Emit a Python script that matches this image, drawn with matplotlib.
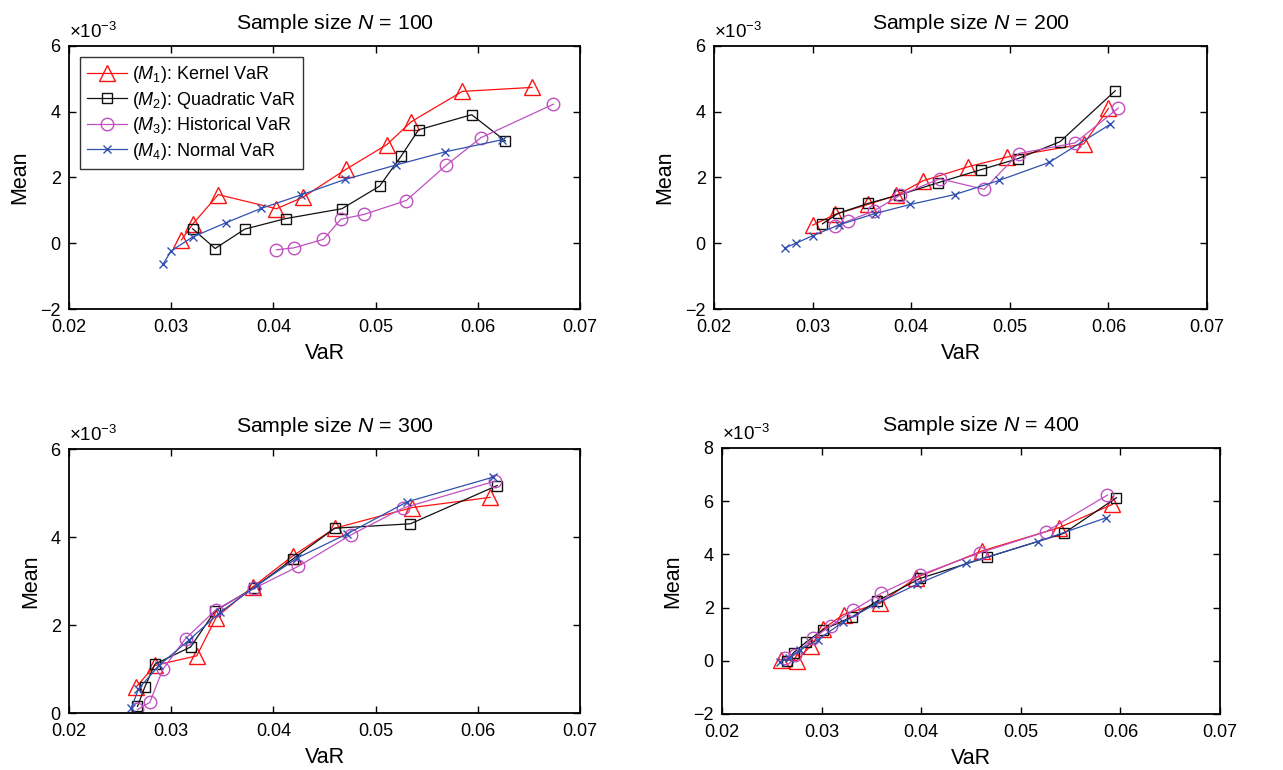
import matplotlib
matplotlib.use("Agg")
import matplotlib.pyplot as plt

plt.rcParams['font.family'] = ['Liberation Sans', 'DejaVu Sans']
plt.rcParams['mathtext.fontset'] = 'custom'
plt.rcParams['mathtext.rm'] = 'Liberation Sans'
plt.rcParams['mathtext.it'] = 'Liberation Sans:italic'

titles = ["Sample size $N$ = 100", "Sample size $N$ = 200",
          "Sample size $N$ = 300", "Sample size $N$ = 400"]
labels = ["($M_1$): Kernel VaR", "($M_2$): Quadratic VaR",
          "($M_3$): Historical VaR", "($M_4$): Normal VaR"]

# Mean values are in units of 1e-3
# N = 100
p1_m1_x = [0.0310, 0.0321, 0.0346, 0.0403, 0.0429, 0.0471, 0.0511, 0.0535, 0.0585, 0.0653]
p1_m1_y = [0.10, 0.58, 1.48, 1.05, 1.40, 2.25, 3.00, 3.70, 4.62, 4.74]
p1_m2_x = [0.0321, 0.0343, 0.0372, 0.0412, 0.0467, 0.0504, 0.0525, 0.0542, 0.0594, 0.0627]
p1_m2_y = [0.44, -0.16, 0.43, 0.75, 1.05, 1.74, 2.65, 3.45, 3.91, 3.11]
p1_m3_x = [0.0403, 0.0420, 0.0449, 0.0466, 0.0489, 0.0530, 0.0569, 0.0603, 0.0674]
p1_m3_y = [-0.20, -0.14, 0.12, 0.73, 0.88, 1.30, 2.37, 3.21, 4.23]
p1_m4_x = [0.0292, 0.0300, 0.0321, 0.0354, 0.0388, 0.0427, 0.0470, 0.0520, 0.0568, 0.0624]
p1_m4_y = [-0.64, -0.23, 0.19, 0.63, 1.06, 1.47, 1.94, 2.38, 2.78, 3.15]

# N = 200
p2_m1_x = [0.0300, 0.0323, 0.0356, 0.0385, 0.0412, 0.0458, 0.0497, 0.0575, 0.0600]
p2_m1_y = [0.55, 0.88, 1.18, 1.46, 1.90, 2.33, 2.62, 3.02, 4.10]
p2_m2_x = [0.0310, 0.0326, 0.0356, 0.0388, 0.0427, 0.0471, 0.0508, 0.0551, 0.0607]
p2_m2_y = [0.59, 0.91, 1.21, 1.47, 1.84, 2.24, 2.57, 3.09, 4.64]
p2_m3_x = [0.0323, 0.0336, 0.0362, 0.0389, 0.0429, 0.0474, 0.0509, 0.0566, 0.0610]
p2_m3_y = [0.51, 0.68, 0.98, 1.47, 1.96, 1.64, 2.73, 3.05, 4.11]
p2_m4_x = [0.0272, 0.0283, 0.0300, 0.0327, 0.0363, 0.0399, 0.0444, 0.0489, 0.0540, 0.0602]
p2_m4_y = [-0.14, 0.00, 0.23, 0.56, 0.90, 1.18, 1.48, 1.91, 2.46, 3.62]

# N = 300
p3_m1_x = [0.0266, 0.0284, 0.0325, 0.0344, 0.0380, 0.0419, 0.0460, 0.0536, 0.0612]
p3_m1_y = [0.60, 1.08, 1.30, 2.17, 2.87, 3.57, 4.20, 4.67, 4.90]
p3_m2_x = [0.0267, 0.0274, 0.0284, 0.0319, 0.0343, 0.0381, 0.0419, 0.0460, 0.0534, 0.0619]
p3_m2_y = [0.15, 0.58, 1.11, 1.50, 2.32, 2.85, 3.50, 4.20, 4.30, 5.17]
p3_m3_x = [0.0267, 0.0279, 0.0292, 0.0314, 0.0344, 0.0381, 0.0424, 0.0476, 0.0527, 0.0617]
p3_m3_y = [0.08, 0.24, 1.00, 1.69, 2.35, 2.83, 3.33, 4.05, 4.66, 5.27]
p3_m4_x = [0.0261, 0.0268, 0.0288, 0.0317, 0.0348, 0.0384, 0.0423, 0.0472, 0.0531, 0.0615]
p3_m4_y = [0.11, 0.55, 1.08, 1.65, 2.29, 2.90, 3.52, 4.07, 4.80, 5.36]

# N = 400
p4_m1_x = [0.0259, 0.0275, 0.0289, 0.0301, 0.0322, 0.0359, 0.0395, 0.0461, 0.0538, 0.0592]
p4_m1_y = [0.04, 0.01, 0.56, 1.19, 1.74, 2.17, 3.13, 4.13, 5.00, 5.88]
p4_m2_x = [0.0265, 0.0272, 0.0284, 0.0301, 0.0331, 0.0356, 0.0399, 0.0466, 0.0543, 0.0596]
p4_m2_y = [0.00, 0.31, 0.69, 1.16, 1.66, 2.25, 3.10, 3.89, 4.79, 6.13]
p4_m3_x = [0.0263, 0.0273, 0.0291, 0.0309, 0.0332, 0.0360, 0.0399, 0.0459, 0.0525, 0.0587]
p4_m3_y = [0.10, 0.22, 0.84, 1.31, 1.91, 2.54, 3.23, 4.06, 4.85, 6.23]
p4_m4_x = [0.0258, 0.0267, 0.0278, 0.0296, 0.0321, 0.0354, 0.0396, 0.0445, 0.0517, 0.0586]
p4_m4_y = [-0.06, 0.10, 0.41, 0.79, 1.44, 2.13, 2.88, 3.66, 4.48, 5.38]

panels = [
    [(p1_m1_x, p1_m1_y), (p1_m2_x, p1_m2_y), (p1_m3_x, p1_m3_y), (p1_m4_x, p1_m4_y)],
    [(p2_m1_x, p2_m1_y), (p2_m2_x, p2_m2_y), (p2_m3_x, p2_m3_y), (p2_m4_x, p2_m4_y)],
    [(p3_m1_x, p3_m1_y), (p3_m2_x, p3_m2_y), (p3_m3_x, p3_m3_y), (p3_m4_x, p3_m4_y)],
    [(p4_m1_x, p4_m1_y), (p4_m2_x, p4_m2_y), (p4_m3_x, p4_m3_y), (p4_m4_x, p4_m4_y)],
]

ylims = [(-2, 6), (-2, 6), (0, 6), (-2, 8)]
yticks = [[-2, 0, 2, 4, 6], [-2, 0, 2, 4, 6], [0, 2, 4, 6], [-2, 0, 2, 4, 6, 8]]

styles = [
    dict(color='#FF1010', marker='^', markersize=11, markerfacecolor='none', markeredgewidth=1.0),
    dict(color='#111111', marker='s', markersize=7.5, markerfacecolor='none', markeredgewidth=1.0),
    dict(color='#C050C0', marker='o', markersize=9, markerfacecolor='none', markeredgewidth=1.0),
    dict(color='#3050B0', marker='x', markersize=6, markeredgewidth=1.0),
]

W, H = 1283, 770
fig = plt.figure(figsize=(W / 100, H / 100), dpi=100)

# axes boxes in pixel coords: left, right, top, bottom
boxes = [(69, 580, 46, 309), (714, 1207, 46, 309),
         (69, 580, 449, 713), (722, 1220, 448, 714)]

for i, (l, r, t, b) in enumerate(boxes):
    ax = fig.add_axes([l / W, 1 - b / H, (r - l) / W, (b - t) / H])
    for j, (xs, ys) in enumerate(panels[i]):
        ax.plot(xs, ys, linewidth=0.9, label=labels[j], **styles[j])
    ax.set_xlim(0.02, 0.07)
    ax.set_ylim(*ylims[i])
    ax.set_xticks([0.02, 0.03, 0.04, 0.05, 0.06, 0.07])
    ax.set_xticklabels(['0.02', '0.03', '0.04', '0.05', '0.06', '0.07'])
    ax.set_yticks(yticks[i])
    ax.set_yticklabels([str(v).replace('-', '\u2212') for v in yticks[i]])
    ax.tick_params(direction='in', top=True, right=True, length=5, width=1.0,
                   labelsize=13)
    ax.tick_params(axis='x', pad=7)
    ax.tick_params(axis='y', pad=6)
    for s in ax.spines.values():
        s.set_linewidth(1.3)
    ax.set_title(titles[i], fontsize=15.3, pad=12, x=0.5 + 10.0 / (r - l))
    ax.set_xlabel('VaR', fontsize=15.5, labelpad=5)
    ax.set_ylabel('Mean', fontsize=15.5, labelpad=7)
    ax.text(0.0, 1.015, r'$\times10^{-3}$', transform=ax.transAxes,
            fontsize=13.5, ha='left', va='bottom')
    if i == 0:
        leg = ax.legend(loc='upper left', fontsize=13, frameon=True, fancybox=False,
                        edgecolor='black', borderpad=0.4, labelspacing=0.25,
                        handlelength=2.2, handletextpad=0.3, borderaxespad=0.6)
        leg.get_frame().set_linewidth(1.0)

fig.savefig('out.png', dpi=100)
